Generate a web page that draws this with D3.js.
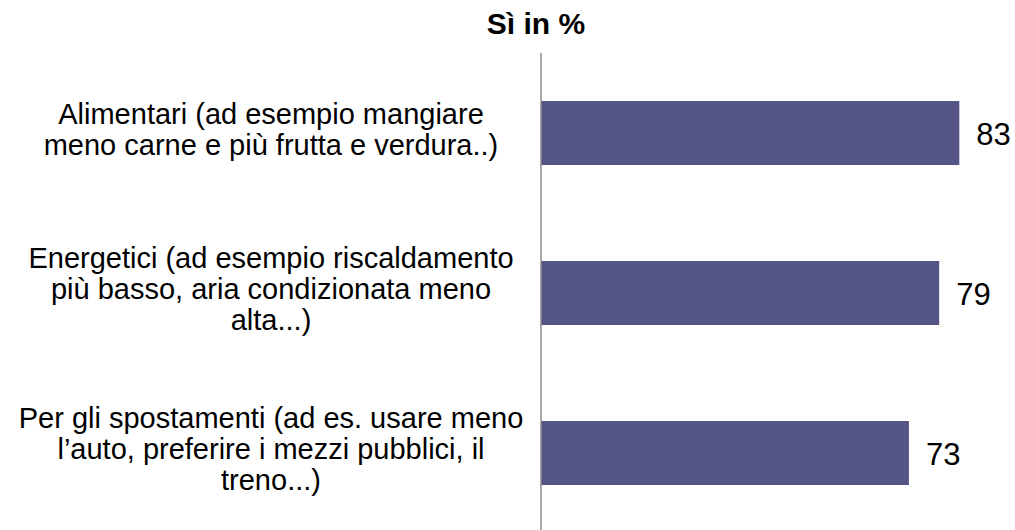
<!DOCTYPE html>
<html>
<head>
<meta charset="utf-8">
<script src="https://cdn.jsdelivr.net/npm/d3@7"></script>
<style>
  body { margin: 0; background: #fff; }
  text { font-family: "Liberation Sans", Arial, sans-serif; fill: #000; }
</style>
</head>
<body>
<div id="chart"></div>
<script>
// Data
const categories = ["Alimentari", "Energetici", "Spostamenti"];
const values = [83, 79, 73];
const labelLines = [
    ["Alimentari (ad esempio mangiare", "meno carne e più frutta e verdura..)"],
    ["Energetici (ad esempio riscaldamento", "più basso, aria condizionata meno", "alta...)"],
    ["Per gli spostamenti (ad es. usare meno", "l\u2019auto, preferire i mezzi pubblici, il", "treno...)"]
];
const title = "Sì in %";

const width = 1015, height = 530;

const svg = d3.select("#chart")
    .append("svg")
    .attr("width", width)
    .attr("height", height);

// Scales
const x = d3.scaleLinear().domain([0, 100]).range([541, 1045]);
const y = d3.scaleBand()
    .domain(categories)
    .range([53, 533])
    .paddingInner(0.6)
    .paddingOuter(0.3);

// Title
svg.append("text")
    .attr("x", 536)
    .attr("y", 34)
    .attr("text-anchor", "middle")
    .style("font-weight", "bold")
    .style("font-size", "30px")
    .text(title);

// Bars
svg.selectAll("rect.bar")
    .data(values)
    .join("rect")
    .attr("class", "bar")
    .attr("x", x(0))
    .attr("y", (d, i) => y(categories[i]))
    .attr("width", d => x(d) - x(0))
    .attr("height", y.bandwidth())
    .attr("fill", "#555587");

// Vertical axis line
svg.append("line")
    .attr("x1", x(0)).attr("x2", x(0))
    .attr("y1", y.range()[0]).attr("y2", y.range()[1])
    .attr("stroke", "#8c8c8c")
    .attr("stroke-width", 1.5);

// Value labels
svg.selectAll("text.value")
    .data(values)
    .join("text")
    .attr("class", "value")
    .attr("x", d => x(d) + 17)
    .attr("y", (d, i) => y(categories[i]) + y.bandwidth() / 2 + 12)
    .style("font-size", "31px")
    .text(d => d);

// Category labels (centered, multi-line)
const lineH = 31;
labelLines.forEach((lines, i) => {
    const cy = y(categories[i]) + y.bandwidth() / 2;
    const first = cy - (lines.length - 1) * lineH / 2 + 6;
    svg.append("text")
        .attr("text-anchor", "middle")
        .style("font-size", "29px")
        .selectAll("tspan")
        .data(lines)
        .join("tspan")
        .attr("x", 271)
        .attr("y", (d, j) => first + j * lineH)
        .text(d => d);
});
</script>
</body>
</html>
